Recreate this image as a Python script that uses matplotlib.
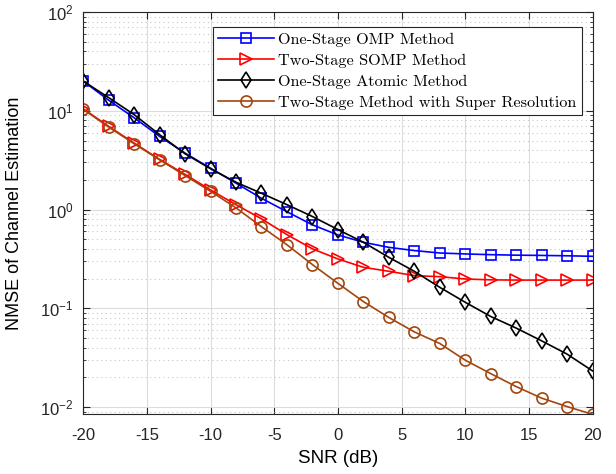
import numpy as np
import matplotlib
matplotlib.use("Agg")
import matplotlib.pyplot as plt
from matplotlib.ticker import LogLocator, NullFormatter, MultipleLocator

# SNR axis
snr = np.arange(-20, 21, 2)

# NMSE values
omp = [20.0, 12.8, 8.5, 5.5, 3.73, 2.62, 1.85, 1.30, 0.95, 0.70, 0.553,
       0.466, 0.414, 0.384, 0.363, 0.355, 0.349, 0.345, 0.343, 0.340, 0.336]
somp = [10.5, 6.96, 4.71, 3.22, 2.27, 1.58, 1.12, 0.805, 0.557, 0.40, 0.316,
        0.26, 0.237, 0.214, 0.209, 0.198, 0.194, 0.193, 0.193, 0.193, 0.193]
atomic = [20.0, 13.6, 9.15, 5.73, 3.67, 2.59, 1.89, 1.46, 1.12, 0.85, 0.627,
          0.466, 0.328, 0.237, 0.163, 0.115, 0.0826, 0.063, 0.0468, 0.0343, 0.0232]
superres = [10.35, 6.85, 4.64, 3.19, 2.21, 1.53, 1.04, 0.67, 0.44, 0.277, 0.179,
            0.117, 0.0807, 0.0577, 0.044, 0.0298, 0.0218, 0.0161, 0.0123, 0.0101, 0.00843]

labels = ["One-Stage OMP Method", "Two-Stage SOMP Method",
          "One-Stage Atomic Method", "Two-Stage Method with Super Resolution"]

plt.rcParams['font.family'] = ['Liberation Sans', 'DejaVu Sans']
plt.rcParams['axes.unicode_minus'] = False
plt.rcParams['mathtext.fontset'] = 'custom'
plt.rcParams['mathtext.rm'] = 'Liberation Sans'
plt.rcParams['mathtext.it'] = 'Liberation Sans'
plt.rcParams['mathtext.default'] = 'regular'

fig = plt.figure(figsize=(6.16, 4.74), dpi=100)
ax = fig.add_axes([0.135, 0.1266, 0.827, 0.848])

brown = (0.64, 0.27, 0.05)
lw = 1.2
ms = 7.5
ax.semilogy(snr, omp, color='blue', marker='s', mfc='none', lw=lw, ms=ms, mew=1.2, label=labels[0])
ax.semilogy(snr, somp, color='red', marker='>', mfc='none', lw=lw, ms=ms + 1.5, mew=1.2, label=labels[1])
ax.semilogy(snr, atomic, color='black', marker='d', mfc='none', lw=lw, ms=ms + 1, mew=1.2, label=labels[2])
ax.semilogy(snr, superres, color=brown, marker='o', mfc='none', lw=lw, ms=ms + 0.5, mew=1.2, label=labels[3])

ax.set_xlim(-20, 20)
ax.set_ylim(0.0085, 100)
ax.xaxis.set_major_locator(MultipleLocator(5))
ax.yaxis.set_major_locator(LogLocator(base=10, numticks=10))
ax.yaxis.set_minor_locator(LogLocator(base=10, subs=np.arange(2, 10), numticks=10))
ax.yaxis.set_minor_formatter(NullFormatter())

ax.grid(True, which='major', color='#dcdcdc', lw=0.8, ls='-')
ax.grid(True, which='minor', axis='y', color='#c8c8c8', lw=0.8, ls=(0, (1, 3)))
ax.set_axisbelow(True)

ax.tick_params(which='both', direction='in', top=True, right=True, labelsize=12, colors='#262626')
ax.tick_params(which='major', length=5)
ax.tick_params(which='minor', length=2.5)
ax.tick_params(axis='x', pad=10)
ax.tick_params(axis='y', pad=7)
for s in ax.spines.values():
    s.set_color('#262626')
    s.set_linewidth(0.8)

ax.set_xlabel("SNR (dB)", fontsize=13.5)
ax.set_ylabel("NMSE of Channel Estimation", fontsize=13)
ax.xaxis.set_label_coords(0.5, -0.09)
ax.yaxis.set_label_coords(-0.118, 0.5)

leg = ax.legend(loc='upper right', bbox_to_anchor=(0.98, 0.9625), fancybox=False,
                framealpha=1, edgecolor='#262626', borderpad=0.35, labelspacing=0.4,
                handlelength=3.4, handletextpad=0.3, borderaxespad=0.0,
                prop={'family': 'cmr10', 'size': 11.7})
leg.get_frame().set_linewidth(0.8)

fig.savefig("out.png", dpi=100)
